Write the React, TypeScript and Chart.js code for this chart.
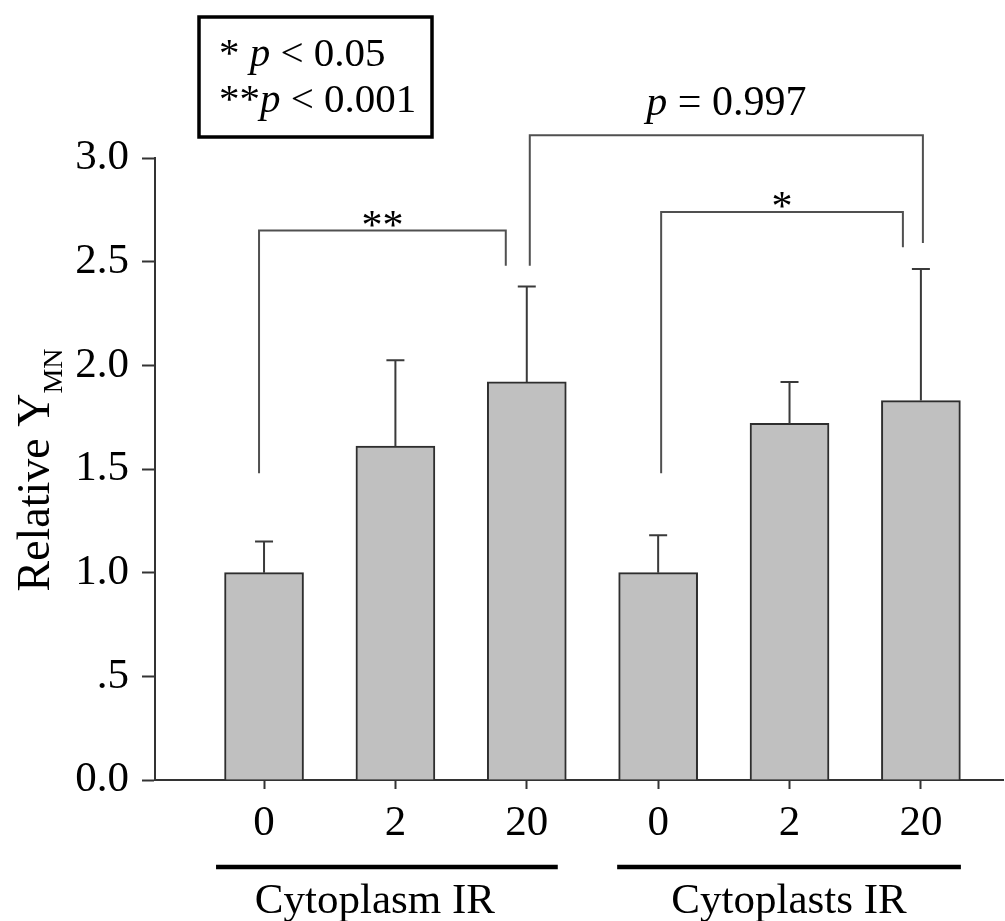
import React, { useEffect, useRef } from 'react';
import { Chart, registerables } from 'chart.js';

Chart.register(...registerables);

// ---------- data ----------
const doseLabels = ['0', '2', '20', '0', '2', '20'];
const meanValues = [1.0, 1.61, 1.92, 1.0, 1.72, 1.83];
const errorValues = [0.15, 0.415, 0.46, 0.18, 0.2, 0.635];
const groupNames = ['Cytoplasm IR', 'Cytoplasts IR'];
const groupMembers = [[0, 2], [3, 5]];
const yTickValues = [0, 0.5, 1.0, 1.5, 2.0, 2.5, 3.0];
const yTickLabels = ['0.0', '.5', '1.0', '1.5', '2.0', '2.5', '3.0'];
const bracketFrom = [0, 2, 3];
const bracketTo = [2, 5, 5];
const bracketLeftBase = [1.48, 2.48, 1.48];
const bracketRightBase = [2.48, 2.59, 2.57];
const bracketTop = [2.65, 3.11, 2.74];
const bracketLabels = ['**', 'p = 0.997', '*'];
const legendLines = [['* ', 'p', ' < 0.05'], ['**', 'p', ' < 0.001']];
const yTitleMain = 'Relative Y';
const yTitleSub = 'MN';

// ---------- style ----------
const SERIF = '"Liberation Serif", "Times New Roman", serif';
const bracketDx = [[-5, -21], [3, 2], [3, -18]];
const groupPad = [[-48, 31], [-41, 40]];

const overlayPlugin = {
  id: 'overlay',
  afterDatasetsDraw(chart: any) {
    const ctx = chart.ctx as CanvasRenderingContext2D;
    const xs = chart.scales.x;
    const ys = chart.scales.y;
    ctx.save();

    // error bars
    ctx.strokeStyle = '#3a3a3a';
    ctx.lineWidth = 2;
    meanValues.forEach((m, i) => {
      const x = xs.getPixelForValue(i);
      const y0 = ys.getPixelForValue(m);
      const y1 = ys.getPixelForValue(m + errorValues[i]);
      ctx.beginPath();
      ctx.moveTo(x, y0);
      ctx.lineTo(x, y1);
      ctx.moveTo(x - 9, y1);
      ctx.lineTo(x + 9, y1);
      ctx.stroke();
    });

    // brackets
    ctx.strokeStyle = '#505050';
    ctx.lineWidth = 2;
    bracketFrom.forEach((f, k) => {
      const xl = xs.getPixelForValue(f) + bracketDx[k][0];
      const xr = xs.getPixelForValue(bracketTo[k]) + bracketDx[k][1];
      const yl = ys.getPixelForValue(bracketLeftBase[k]);
      const yr = ys.getPixelForValue(bracketRightBase[k]);
      const yt = ys.getPixelForValue(bracketTop[k]);
      ctx.beginPath();
      ctx.moveTo(xl, yl);
      ctx.lineTo(xl, yt);
      ctx.lineTo(xr, yt);
      ctx.lineTo(xr, yr);
      ctx.stroke();
      const cx = (xl + xr) / 2;
      ctx.fillStyle = '#000';
      ctx.textBaseline = 'alphabetic';
      const lab = bracketLabels[k];
      if (lab.startsWith('p')) {
        const fItal = `italic 42px ${SERIF}`;
        const fNorm = `42px ${SERIF}`;
        ctx.font = fItal;
        const w1 = ctx.measureText('p').width;
        ctx.font = fNorm;
        const rest = lab.slice(1);
        const w2 = ctx.measureText(rest).width;
        const sx = cx - (w1 + w2) / 2;
        ctx.textAlign = 'left';
        ctx.font = fItal;
        ctx.fillText('p', sx, yt - 20);
        ctx.font = fNorm;
        ctx.fillText(rest, sx + w1, yt - 20);
      } else {
        ctx.font = `42px ${SERIF}`;
        ctx.textAlign = 'center';
        ctx.fillText(lab, cx, yt + 8);
      }
    });

    // legend box
    ctx.strokeStyle = '#000';
    ctx.lineWidth = 3.5;
    ctx.strokeRect(199, 17, 233, 120);
    ctx.textAlign = 'left';
    ctx.textBaseline = 'alphabetic';
    legendLines.forEach((parts, li) => {
      let x = 219;
      const y = li === 0 ? 66 : 112;
      parts.forEach((t, pi) => {
        ctx.font = pi === 1 ? `italic 41px ${SERIF}` : `41px ${SERIF}`;
        ctx.fillText(t, x, y);
        x += ctx.measureText(t).width;
      });
    });

    // group lines and names
    groupMembers.forEach((g, gi) => {
      const xl = xs.getPixelForValue(g[0]) + groupPad[gi][0];
      const xr = xs.getPixelForValue(g[1]) + groupPad[gi][1];
      ctx.strokeStyle = '#000';
      ctx.lineWidth = 4.5;
      ctx.beginPath();
      ctx.moveTo(xl, 867);
      ctx.lineTo(xr, 867);
      ctx.stroke();
      ctx.font = `43px ${SERIF}`;
      ctx.textAlign = 'center';
      ctx.fillText(groupNames[gi], (xl + xr) / 2 - 12 + gi * 12, 913);
    });

    // y title
    ctx.save();
    ctx.translate(49, 470);
    ctx.rotate(-Math.PI / 2);
    ctx.font = `46px ${SERIF}`;
    const wm = ctx.measureText(yTitleMain).width;
    ctx.font = `28px ${SERIF}`;
    const ws = ctx.measureText(yTitleSub).width;
    const sx = -(wm + ws) / 2;
    ctx.textAlign = 'left';
    ctx.font = `46px ${SERIF}`;
    ctx.fillText(yTitleMain, sx, 0);
    ctx.font = `28px ${SERIF}`;
    ctx.fillText(yTitleSub, sx + wm, 13);
    ctx.restore();

    ctx.restore();
  },
};

export default function App() {
  const ref = useRef<HTMLCanvasElement | null>(null);
  useEffect(() => {
    if (!ref.current) return;
    const chart = new Chart(ref.current, {
      type: 'bar',
      data: {
        datasets: [
          {
            data: meanValues.map((v, i) => ({ x: i, y: v })),
            backgroundColor: '#c0c0c0',
            borderColor: '#2e2e2e',
            borderWidth: 2,
            barThickness: 79,
          } as any,
        ],
      },
      options: {
        animation: false,
        responsive: false,
        layout: { padding: { top: 158, right: 2, left: 0, bottom: 0 } },
        plugins: { legend: { display: false }, tooltip: { enabled: false } },
        scales: {
          x: {
            type: 'linear',
            min: -0.83,
            max: 5.625,
            offset: false,
            afterBuildTicks: (s: any) => {
              s.ticks = doseLabels.map((_, i) => ({ value: i }));
            },
            afterFit: (s: any) => {
              s.height = 141;
            },
            ticks: {
              autoSkip: false,
              maxRotation: 0,
              padding: 9,
              color: '#000',
              font: { family: SERIF, size: 43 },
              callback: (_v: any, i: number) => doseLabels[i],
            },
            grid: {
              offset: false,
              drawOnChartArea: false,
              drawTicks: true,
              tickLength: 9,
              tickColor: '#333',
              tickWidth: 2,
            },
            border: { color: '#333', width: 2 },
          } as any,
          y: {
            min: 0,
            max: 3,
            afterBuildTicks: (s: any) => {
              s.ticks = yTickValues.map((v) => ({ value: v }));
            },
            afterFit: (s: any) => {
              s.width = 155;
            },
            ticks: {
              padding: 13,
              color: '#000',
              font: { family: SERIF, size: 43 },
              callback: (_v: any, i: number) => yTickLabels[i],
            },
            grid: {
              drawOnChartArea: false,
              drawTicks: true,
              tickLength: 13,
              tickColor: '#333',
              tickWidth: 2,
            },
            border: { color: '#333', width: 2 },
          } as any,
        },
      },
      plugins: [overlayPlugin],
    });
    return () => chart.destroy();
  }, []);
  return (
    <div style={{ position: 'absolute', left: 0, top: 0, width: 1005, height: 921, background: '#fff' }}>
      <canvas ref={ref} width={1005} height={921} style={{ width: 1005, height: 921, display: 'block' }} />
    </div>
  );
}
